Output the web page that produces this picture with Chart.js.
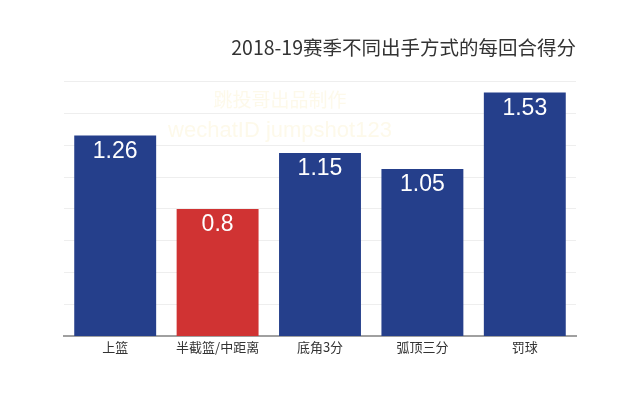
<!DOCTYPE html>
<html>
<head>
<meta charset="utf-8">
<script src="https://cdn.jsdelivr.net/npm/chart.js@4"></script>
<style>
html,body{margin:0;padding:0;background:#fff;}
#wrap{width:640px;height:400px;}
</style>
</head>
<body>
<div id="wrap"><canvas id="c" width="640" height="400"></canvas></div>
<script>
const titleText = "2018-19赛季不同出手方式的每回合得分";
const categories = ["上篮", "半截篮/中距离", "底角3分", "弧顶三分", "罚球"];
const pointsPerPossession = [1.26, 0.8, 1.15, 1.05, 1.53];
const barColors = ["#253f8b", "#d03333", "#253f8b", "#253f8b", "#253f8b"];
const watermarkLines = ["跳投哥出品制作", "wechatID jumpshot123"];

const valueLabels = {
  id: 'valueLabels',
  afterDatasetsDraw(chart) {
    const ctx = chart.ctx;
    const meta = chart.getDatasetMeta(0);
    ctx.save();
    ctx.fillStyle = '#ffffff';
    ctx.font = '23px "Liberation Sans", Arial, sans-serif';
    ctx.textAlign = 'center';
    ctx.textBaseline = 'middle';
    meta.data.forEach((bar, i) => {
      ctx.fillText(String(chart.data.datasets[0].data[i]), bar.x, bar.y + 16);
    });
    ctx.restore();
  }
};

const watermark = {
  id: 'watermark',
  afterDraw(chart) {
    const ctx = chart.ctx;
    ctx.save();
    ctx.fillStyle = 'rgba(245, 228, 160, 0.22)';
    ctx.textAlign = 'center';
    ctx.textBaseline = 'middle';
    ctx.font = '19px "Noto Sans CJK SC", sans-serif';
    ctx.fillText(watermarkLines[0], 280, 100);
    ctx.font = '22px "Liberation Sans", Arial, sans-serif';
    ctx.fillText(watermarkLines[1], 280, 131);
    ctx.restore();
  }
};

new Chart(document.getElementById('c'), {
  type: 'bar',
  data: {
    labels: categories,
    datasets: [{
      data: pointsPerPossession,
      backgroundColor: barColors,
      borderWidth: 0,
      categoryPercentage: 0.8,
      barPercentage: 1.0
    }]
  },
  options: {
    responsive: false,
    animation: false,
    devicePixelRatio: 1,
    layout: { padding: { left: 64, right: 64, top: 0, bottom: 42 } },
    plugins: {
      legend: { display: false },
      tooltip: { enabled: false },
      title: {
        display: true,
        text: titleText,
        align: 'end',
        color: '#333333',
        font: { family: '"Noto Sans CJK SC", "Noto Sans", sans-serif', size: 19.5, weight: 'normal' },
        padding: { top: 36, bottom: 22 }
      }
    },
    scales: {
      x: {
        grid: { display: false, drawTicks: false },
        border: { display: true, color: '#a0a0a0', width: 2 },
        ticks: {
          color: '#333333',
          padding: 3,
          font: { family: '"Noto Sans CJK SC", sans-serif', size: 13 }
        }
      },
      y: {
        min: 0,
        max: 1.6,
        ticks: { display: false, stepSize: 0.2 },
        grid: { color: '#eeeeee', drawTicks: false, lineWidth: 1 },
        border: { display: false }
      }
    }
  },
  plugins: [valueLabels, watermark]
});
</script>
</body>
</html>
